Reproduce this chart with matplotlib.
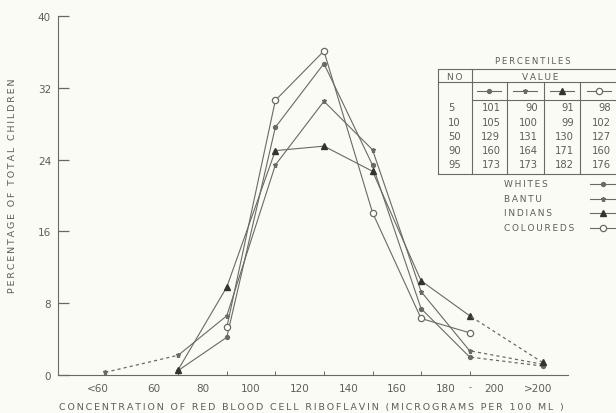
import matplotlib
matplotlib.use('Agg')
import matplotlib.pyplot as plt


# концентрация (середины интервалов), <60 и >200 вынесены по краям
x_pos = [40, 70, 90, 110, 130, 150, 170, 190, 220]
x_tick_pos = [37, 60, 80, 100, 120, 140, 160, 180, 200, 218]
x_tick_labels = ['<60', '60', '80', '100', '120', '140', '160', '180', '200', '>200']

# проценты детей по группам (None - точки нет)
whites = [None, 0.5, 4.2, 27.6, 34.7, 23.4, 7.4, 2.0, 1.0]
bantu = [0.3, 2.2, 6.6, 23.4, 30.5, 25.1, 9.3, 2.7, 1.2]
indians = [None, 0.6, 9.8, 25.0, 25.5, 22.7, 10.5, 6.6, 1.4]
coloureds = [None, None, 5.3, 30.6, 36.1, 18.1, 6.3, 4.7, None]

# таблица перцентилей
pct_levels = [5, 10, 50, 90, 95]
pct_whites = [101, 105, 129, 160, 173]
pct_bantu = [90, 100, 131, 164, 173]
pct_indians = [91, 99, 130, 171, 182]
pct_coloureds = [98, 102, 127, 160, 176]

group_names = ['WHITES', 'BANTU', 'INDIANS', 'COLOUREDS']

bg = '#fbfbf6'
ink = '#6a6a63'
txt = '#5e5e58'

styles = [
    dict(marker='o', ms=2.8, mfc=ink, mec=ink),
    dict(marker='*', ms=3.6, mfc=ink, mec=ink),
    dict(marker='^', ms=5, mfc='#333330', mec='#333330'),
    dict(marker='o', ms=4.5, mfc='white', mec=ink, mew=0.9),
]


def spaced(s):
    # разрядка букв как в чертёжном шрифте
    return '\u2009'.join(s)


def plot_series(ax, xs, ys, style):
    # внутренние точки (70..190) сплошной линией, крайние - пунктиром
    pts = [(x, y) for x, y in zip(xs, ys) if y is not None]
    inner = [(x, y) for x, y in pts if 60 < x < 200]
    ax.plot([p[0] for p in inner], [p[1] for p in inner], color=ink, lw=0.8, **style)
    outer = [(x, y) for x, y in pts if x < 60 or x > 200]
    for ox, oy in outer:
        near = inner[0] if ox < 60 else inner[-1]
        ax.plot([ox, near[0]], [oy, near[1]], color=ink, lw=0.9, ls=(0, (2.5, 2.5)))
        ax.plot([ox], [oy], color=ink, ls='none', **style)


fig = plt.figure(figsize=(6.16, 4.14), dpi=100, facecolor=bg)
ax = fig.add_axes([58 / 616, 38 / 414, 510 / 616, 359 / 414])
ax.set_facecolor(bg)

for ys, st in zip([whites, bantu, indians, coloureds], styles):
    plot_series(ax, x_pos, ys, st)

ax.set_xlim(20.5, 230.5)
ax.set_ylim(0, 40)
ax.spines['top'].set_visible(False)
ax.spines['right'].set_visible(False)
ax.spines['left'].set_color(ink)
ax.spines['bottom'].set_color(ink)
ax.spines['left'].set_linewidth(0.8)
ax.spines['bottom'].set_linewidth(0.8)

ax.set_yticks([0, 8, 16, 24, 32, 40])
ax.tick_params(axis='y', direction='in', length=8, width=0.9, color=ink, labelsize=7.5,
               labelcolor=txt, pad=5)

ax.set_xticks(x_tick_pos)
ax.set_xticklabels(x_tick_labels)
ax.set_xticks([60, 70, 80, 90, 100, 110, 120, 130, 140, 150, 160, 170, 180, 190, 200], minor=True)
ax.tick_params(axis='x', which='major', length=0, labelsize=7.5, labelcolor=txt, pad=6)
ax.tick_params(axis='x', which='minor', direction='in', length=3, width=0.7, color=ink)
for t in ax.xaxis.get_minor_ticks():
    if t.get_loc() % 20 == 10:
        t.tick1line.set_markersize(5)
ax.text(190, -1.35, '-', ha='center', va='center', fontsize=6, color=txt)

ax.set_xlabel(spaced('CONCENTRATION OF RED BLOOD CELL RIBOFLAVIN (MICROGRAMS PER 100 ML )'),
              fontsize=6.8, color=txt)
ax.xaxis.set_label_coords(253 / 510, -27 / 359)
ax.set_ylabel(spaced('PERCENTAGE OF TOTAL CHILDREN'), fontsize=6.8, color=txt)
ax.yaxis.set_label_coords(-41 / 510, (376 - 186) / 359)

# таблица и легенда поверх, в пиксельных координатах
ov = fig.add_axes([0, 0, 1, 1])
ov.set_xlim(0, 616)
ov.set_ylim(414, 0)
ov.axis('off')
ov.patch.set_alpha(0)

t_left, t_no, t_right = 437.5, 471.5, 616
col_edges = [471.5, 506.5, 544, 580, 617]
y_top, y_head, y_mark, y_bot = 70, 83, 101, 175
lw_t = 0.8
ov.plot([t_left, t_right], [y_top, y_top], color=ink, lw=lw_t)
ov.plot([t_left, t_right], [y_head, y_head], color=ink, lw=lw_t)
ov.plot([t_no, t_right], [y_mark, y_mark], color=ink, lw=lw_t)
ov.plot([t_left, t_right], [y_bot, y_bot], color=ink, lw=lw_t)
ov.plot([t_left, t_left], [y_top, y_bot], color=ink, lw=lw_t)
ov.plot([t_no, t_no], [y_top, y_bot], color=ink, lw=lw_t)
for cx in col_edges[1:-1]:
    ov.plot([cx, cx], [y_head, y_bot], color=ink, lw=lw_t)

ov.text(533, 61, spaced('PERCENTILES'), ha='center', va='center', fontsize=6.2, color=txt)
ov.text(455, 77, spaced('NO'), ha='center', va='center', fontsize=6.5, color=txt)
ov.text(540, 77, spaced('VALUE'), ha='center', va='center', fontsize=6.5, color=txt)

row_y = [108, 123, 137, 151, 165]
for i, st in enumerate(styles):
    cx = (col_edges[i] + col_edges[i + 1]) / 2
    ov.plot([cx - 12, cx + 12], [92, 92], color=ink, lw=0.8)
    ov.plot([cx], [92], ls='none', **st)

for lvl, ry in zip(pct_levels, row_y):
    ov.text(448, ry, str(lvl), ha='left', va='center', fontsize=7.2, color=txt)
for i, vals in enumerate([pct_whites, pct_bantu, pct_indians, pct_coloureds]):
    for v, ry in zip(vals, row_y):
        ov.text(col_edges[i + 1] - 6, ry, str(v), ha='right', va='center',
                fontsize=7.2, color=txt)

leg_y = [185, 200, 214, 229]
for name, st, ly in zip(group_names, styles, leg_y):
    ov.text(504, ly, spaced(name), ha='left', va='center', fontsize=6.5, color=txt)
    ov.plot([590, 616], [ly, ly], color=ink, lw=0.8)
    ov.plot([603], [ly], ls='none', **st)

fig.savefig('out.png', dpi=100, facecolor=bg)
